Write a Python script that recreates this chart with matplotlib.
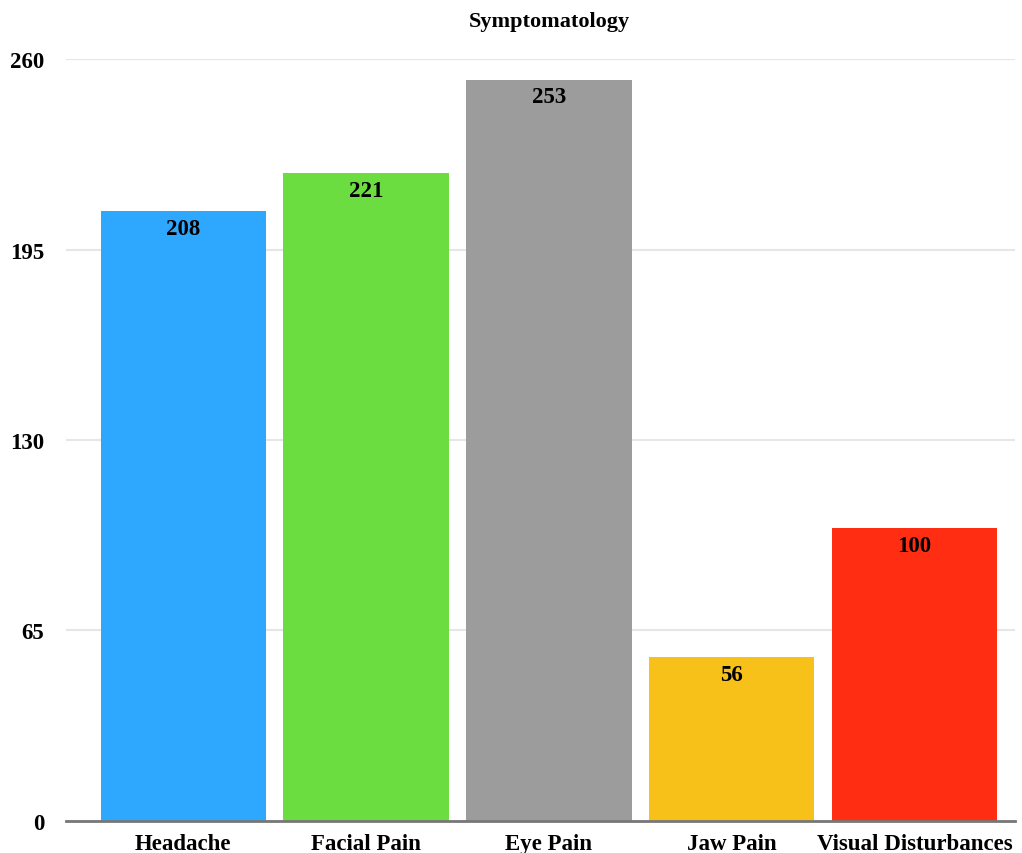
import numpy as np
from matplotlib import pyplot as plt

categories = ['Headache', 'Facial Pain', 'Eye Pain', 'Jaw Pain', 'Visual Disturbances']
counts = [208, 221, 253, 56, 100]
colors = ['#2ea7ff', '#6bdd40', '#9c9c9c', '#f8c11a', '#ff2e12']
yticks = [0, 65, 130, 195, 260]

plt.rcParams['font.family'] = ['Liberation Serif', 'DejaVu Serif']
plt.rcParams['font.weight'] = 'bold'

fig = plt.figure(figsize=(10.22, 8.54), dpi=100)
ax = fig.add_axes([0.065, 0.0375, 0.928, 0.8922])

x = np.arange(len(categories))
bars = ax.bar(x, counts, width=0.905, color=colors, zorder=2)

# 数值标签放在柱子顶部内侧
for b, v in zip(bars, counts):
    ax.annotate(str(v), (b.get_x() + b.get_width() / 2, v), xytext=(0, -5),
                textcoords='offset points', ha='center', va='top',
                fontsize=16.5, fontweight='bold')

ax.set_ylim(0, 260)
ax.set_xlim(-0.64, 4.55)
ax.set_yticks(yticks)
ax.set_yticklabels([str(t) for t in yticks], fontsize=16.5, fontweight='bold')
ax.set_xticks(x)
ax.set_xticklabels(categories, fontsize=16.5, fontweight='bold')
ax.tick_params(axis='both', length=0)
ax.tick_params(axis='y', pad=16)
ax.tick_params(axis='x', pad=9)

ax.grid(axis='y', color='#e6e6e6', lw=1.5, zorder=0)
for s in ['top', 'right', 'left']:
    ax.spines[s].set_visible(False)
ax.spines['bottom'].set_color('#777777')
ax.spines['bottom'].set_linewidth(2)
ax.spines['bottom'].set_zorder(3)

fig.text(0.538, 0.974, 'Symptomatology', ha='center', va='center',
         fontsize=16, fontweight='bold')

fig.savefig('out.png', dpi=100)
